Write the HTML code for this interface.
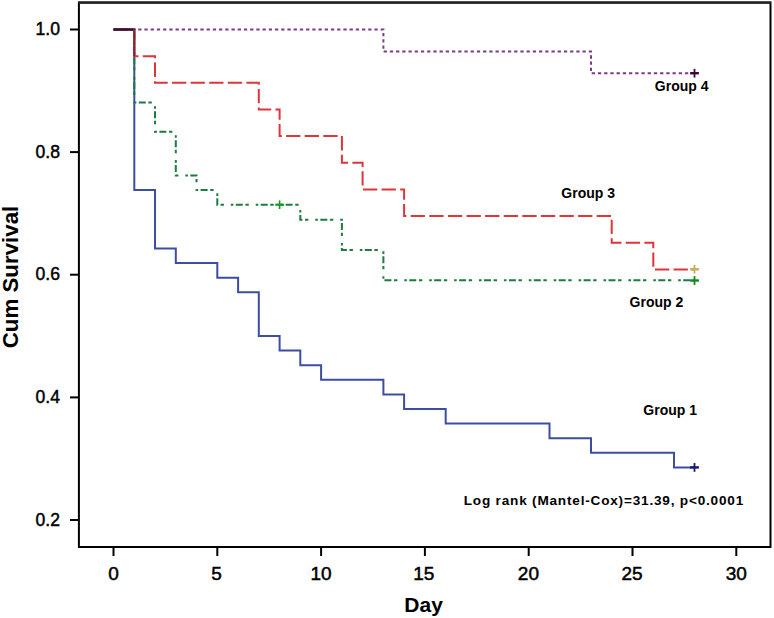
<!DOCTYPE html>
<html><head><meta charset="utf-8">
<style>
html,body{margin:0;padding:0;background:#fff;}
body{width:774px;height:618px;overflow:hidden;}
svg{display:block;}
text{font-family:"Liberation Sans",sans-serif;fill:#000;}
.tk{font-size:19px;stroke:#000;stroke-width:0.5px;}
.lab{font-size:14px;font-weight:bold;}
.ax{font-size:21px;font-weight:bold;}
.cs{font-size:22.3px;font-weight:bold;}
</style></head><body>
<svg width="774" height="618" viewBox="0 0 774 618">
<rect x="0" y="0" width="774" height="618" fill="#fff"/>
<path d="M78.9,2.5H770.5V547H78.9Z" fill="none" stroke="#000" stroke-width="2"/>
<path d="M78,2.6H771" stroke="#222" stroke-width="2.4"/>
<text x="35.6" y="35.1" textLength="24.4" lengthAdjust="spacingAndGlyphs" class="tk">1.0</text>
<path d="M70,29.5H79" stroke="#000" stroke-width="2"/>
<text x="35.6" y="157.7" textLength="24.4" lengthAdjust="spacingAndGlyphs" class="tk">0.8</text>
<path d="M70,152.1H79" stroke="#000" stroke-width="2"/>
<text x="35.6" y="280.3" textLength="24.4" lengthAdjust="spacingAndGlyphs" class="tk">0.6</text>
<path d="M70,274.7H79" stroke="#000" stroke-width="2"/>
<text x="35.6" y="403.0" textLength="24.4" lengthAdjust="spacingAndGlyphs" class="tk">0.4</text>
<path d="M70,397.4H79" stroke="#000" stroke-width="2"/>
<text x="35.6" y="525.6" textLength="24.4" lengthAdjust="spacingAndGlyphs" class="tk">0.2</text>
<path d="M70,520.0H79" stroke="#000" stroke-width="2"/>

<text x="113.5" y="579.6" text-anchor="middle" class="tk">0</text>
<path d="M113.5,547V556" stroke="#000" stroke-width="2"/>
<text x="216.5" y="579.6" text-anchor="middle" class="tk">5</text>
<path d="M217.3,547V556" stroke="#000" stroke-width="2"/>
<text x="321.1" y="579.6" text-anchor="middle" class="tk">10</text>
<path d="M321.1,547V556" stroke="#000" stroke-width="2"/>
<text x="423.7" y="579.6" text-anchor="middle" class="tk">15</text>
<path d="M424.9,547V556" stroke="#000" stroke-width="2"/>
<text x="528.4" y="579.6" text-anchor="middle" class="tk">20</text>
<path d="M528.7,547V556" stroke="#000" stroke-width="2"/>
<text x="632.0" y="579.6" text-anchor="middle" class="tk">25</text>
<path d="M632.5,547V556" stroke="#000" stroke-width="2"/>
<text x="736.3" y="579.6" text-anchor="middle" class="tk">30</text>
<path d="M736.3,547V556" stroke="#000" stroke-width="2"/>

<path d="M113.5,29.5H134.3V190.1H155.0V248.5H175.8V263.1H217.3V277.7H238.1V292.3H258.8V336.1H279.6V350.6H300.3V365.2H321.1V379.8H383.4V394.4H404.1V409.0H445.7V423.6H549.5V438.2H591.0V452.8H674.0V467.4H694.8" fill="none" stroke="#3c4ea2" stroke-width="2"/>
<path d="M113.5,29.5H134.3V102.5H155.0V131.7H175.8V175.5H196.5V190.1H217.3V204.7H300.3V219.8H341.9V250.0H383.4V280.2H694.8" fill="none" stroke="#1b7c40" stroke-width="2" stroke-dasharray="2.6 2.4 7 2.6 3.4 6.9" stroke-dashoffset="6.3"/>
<path d="M113.5,29.5H134.3V56.2H155.0V82.8H258.8V109.5H279.6V136.1H341.9V162.8H362.6V189.4H404.1V216.1H611.7V242.8H653.3V269.4H694.8" fill="none" stroke="#de3539" stroke-width="2" stroke-dasharray="14.3 4.3" stroke-dashoffset="18.4"/>
<path d="M113.5,29.5H383.4V51.4H591.0V73.3H694.8" fill="none" stroke="#7d3a88" stroke-width="2" stroke-dasharray="3.3 2.916" stroke-dashoffset="0.146"/>
<path d="M113.5,29.5H133.3" stroke="#3a0c2e" stroke-width="2.4"/>
<path d="M134.3,28.5V56.2" stroke="#8e2228" stroke-width="2"/>
<path d="M690.1,467.4H698.9" stroke="#16186e" stroke-width="2.4" fill="none"/><path d="M694.5,463.0V471.8" stroke="#16186e" stroke-width="1.8" fill="none"/>
<path d="M690.1,280.5H698.9" stroke="#0e8a1c" stroke-width="2.4" fill="none"/><path d="M694.5,276.1V284.9" stroke="#0e8a1c" stroke-width="1.8" fill="none"/>
<path d="M690.1,269.3H698.9" stroke="#c9ad55" stroke-width="2.4" fill="none"/><path d="M694.5,264.9V273.7" stroke="#c9ad55" stroke-width="1.8" fill="none"/>
<path d="M690.1,73.2H698.9" stroke="#380838" stroke-width="2.4" fill="none"/><path d="M694.5,68.8V77.6" stroke="#380838" stroke-width="1.8" fill="none"/>
<path d="M275.3,204.7H283.9" stroke="#14961f" stroke-width="2.2" fill="none"/><path d="M279.6,200.4V209.0" stroke="#14961f" stroke-width="1.6" fill="none"/>
<text x="654.8" y="91" class="lab">Group 4</text>
<text x="561.3" y="197.8" class="lab">Group 3</text>
<text x="629.6" y="306.9" class="lab">Group 2</text>
<text x="643.3" y="414.8" class="lab">Group 1</text>
<text x="463.7" y="505.3" class="lab" style="font-size:13.6px" textLength="279.5" lengthAdjust="spacing">Log rank (Mantel-Cox)=31.39, p&lt;0.0001</text>
<text x="423.6" y="612.3" text-anchor="middle" class="ax">Day</text>
<text transform="translate(17.5,277) rotate(-90)" text-anchor="middle" class="cs">Cum Survival</text>
</svg>
</body></html>
